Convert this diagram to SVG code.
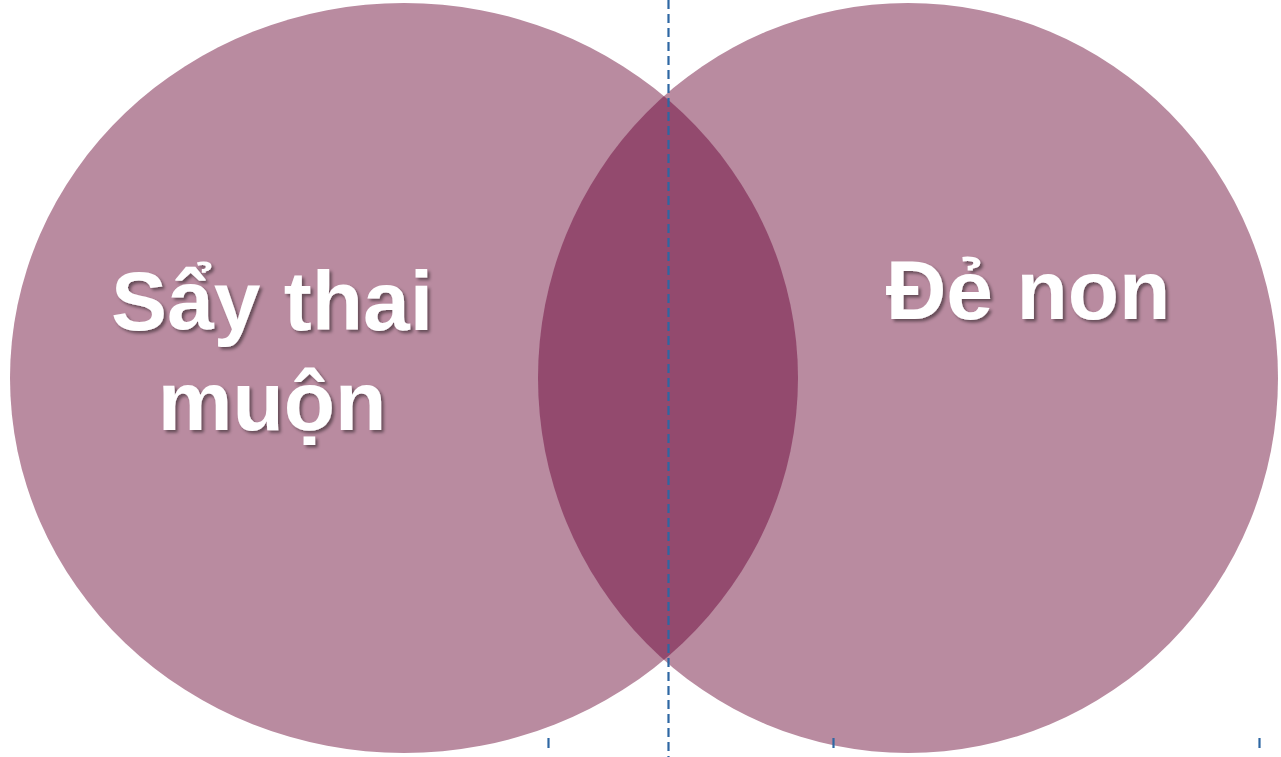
<svg xmlns="http://www.w3.org/2000/svg" width="1281" height="757" viewBox="0 0 1281 757">
<style>
.c{fill:#b98ba0}
.lens{fill:#934a6e}
.t{font-family:"Liberation Sans",Arial,sans-serif;font-weight:bold;font-size:84px;fill:#fff;text-anchor:middle;filter:url(#sh)}
.d{stroke:#2e67a3;stroke-width:2.2;fill:none}
</style>
<defs>
<filter id="sh" x="-10%" y="-20%" width="120%" height="140%">
<feDropShadow dx="2.5" dy="2.5" stdDeviation="1.5" flood-color="#000" flood-opacity="0.45"/>
</filter>
<clipPath id="cl"><ellipse cx="404" cy="378" rx="394" ry="375"/></clipPath>
</defs>
<rect width="1281" height="757" fill="#fff"/>
<g id="left">
<ellipse class="c" cx="404" cy="378" rx="394" ry="375"/>
</g>
<g id="right">
<ellipse class="c" cx="908" cy="378" rx="370" ry="375"/>
</g>
<g id="overlap">
<ellipse class="lens" cx="908" cy="378" rx="370" ry="375" clip-path="url(#cl)"/>
</g>
<g id="connectors">
<line class="d" x1="668.5" y1="0" x2="668.5" y2="757" stroke-dasharray="9,5"/>
<line class="d" x1="548.5" y1="738" x2="548.5" y2="748"/>
<line class="d" x1="833.5" y1="738" x2="833.5" y2="748"/>
<line class="d" x1="1259.5" y1="738" x2="1259.5" y2="748"/>
</g>
<g id="label-left">
<text class="t" x="272" y="330">Sẩy thai</text>
<text class="t" x="272" y="430">muộn</text>
</g>
<g id="label-right">
<text class="t" x="1028" y="319">Đẻ non</text>
</g>
</svg>
